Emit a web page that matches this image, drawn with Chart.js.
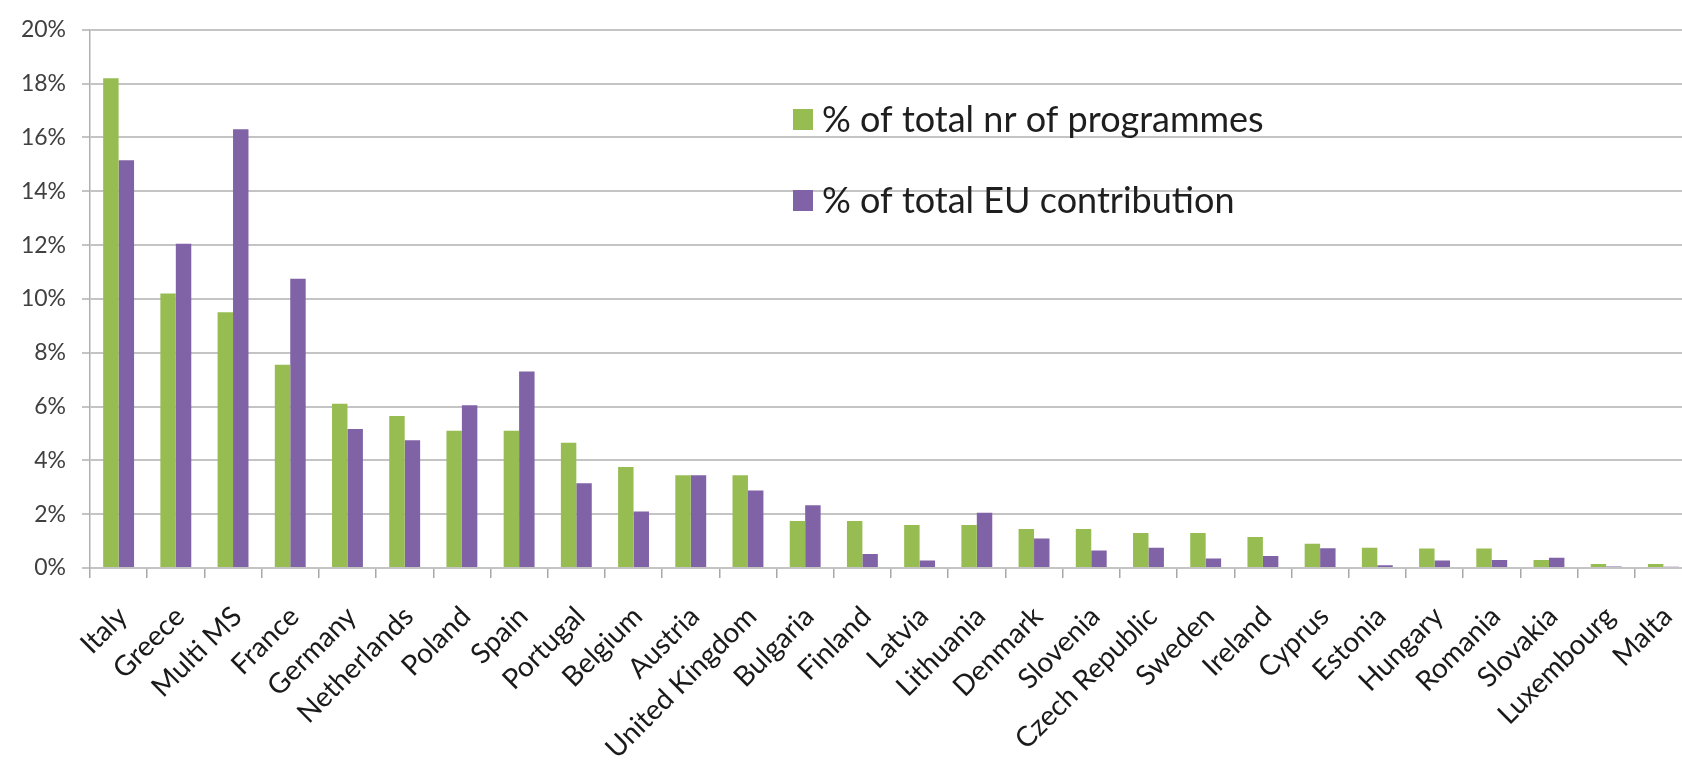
<!DOCTYPE html>
<html>
<head>
<meta charset="utf-8">
<script src="https://cdn.jsdelivr.net/npm/chart.js@4"></script>
<style>
  html, body { margin: 0; padding: 0; background: #ffffff; overflow: hidden; }
  #wrap { width: 1700px; height: 765px; }
</style>
</head>
<body>
<div id="wrap"><canvas id="chart" width="1700" height="765"></canvas></div>
<script>
// Countries, in descending order of share of programmes
const categories = [
  'Italy', 'Greece', 'Multi MS', 'France', 'Germany', 'Netherlands', 'Poland',
  'Spain', 'Portugal', 'Belgium', 'Austria', 'United Kingdom', 'Bulgaria',
  'Finland', 'Latvia', 'Lithuania', 'Denmark', 'Slovenia', 'Czech Republic',
  'Sweden', 'Ireland', 'Cyprus', 'Estonia', 'Hungary', 'Romania', 'Slovakia',
  'Luxembourg', 'Malta'
];

// % of total number of programmes
const programmesShare = [
  18.2, 10.2, 9.5, 7.55, 6.1, 5.65, 5.1, 5.1, 4.65, 3.75, 3.45, 3.45, 1.75,
  1.75, 1.6, 1.6, 1.45, 1.45, 1.3, 1.3, 1.15, 0.9, 0.75, 0.72, 0.72, 0.3,
  0.15, 0.15
];

// % of total EU contribution
const contributionShare = [
  15.15, 12.05, 16.3, 10.75, 5.17, 4.75, 6.05, 7.3, 3.15, 2.1, 3.45, 2.88, 2.33,
  0.52, 0.28, 2.05, 1.1, 0.65, 0.75, 0.35, 0.45, 0.73, 0.1, 0.28, 0.3, 0.38,
  0.06, 0.05
];

const seriesLabels = ['% of total nr of programmes', '% of total EU contribution'];
const yTicks = [0, 2, 4, 6, 8, 10, 12, 14, 16, 18, 20];

const GREEN = '#97bd52';
const PURPLE = '#8062a6';
const GRID = '#c4c4c4';

// Legend drawn inside the plot area, two rows with square swatches
const insideLegend = {
  id: 'insideLegend',
  afterDraw(chart) {
    const ctx = chart.ctx;
    ctx.save();
    ctx.font = '36px Lato';
    ctx.textBaseline = 'middle';
    ctx.textAlign = 'left';
    chart.data.datasets.forEach((ds, i) => {
      const y = 119 + i * 81;
      ctx.fillStyle = ds.backgroundColor;
      ctx.fillRect(793, y - 10, 20, 21);
      ctx.fillStyle = '#1e1e1e';
      ctx.fillText(ds.label, 822, y + 1);
    });
    ctx.restore();
  }
};

new Chart(document.getElementById('chart'), {
  type: 'bar',
  data: {
    labels: categories,
    datasets: [
      { label: seriesLabels[0], data: programmesShare, backgroundColor: GREEN },
      { label: seriesLabels[1], data: contributionShare, backgroundColor: PURPLE }
    ]
  },
  options: {
    responsive: false,
    animation: false,
    devicePixelRatio: 1,
    layout: { padding: { top: 20, right: 8, left: 0, bottom: 0 } },
    datasets: {
      bar: { categoryPercentage: 0.54, barPercentage: 1.0 }
    },
    plugins: {
      legend: { display: false },
      tooltip: { enabled: false }
    },
    scales: {
      x: {
        offset: true,
        grid: {
          display: true,
          offset: true,
          drawOnChartArea: false,
          drawTicks: true,
          tickLength: 10,
          color: '#a8a8a8',
          lineWidth: 1.5
        },
        border: { display: true, color: GRID, width: 2 },
        ticks: {
          autoSkip: false,
          minRotation: 45,
          maxRotation: 45,
          padding: 22,
          labelOffset: 4,
          color: '#1a1a1a',
          font: { family: 'Lato', size: 28 }
        },
        afterFit(scale) {
          scale.height = 197;
          scale.paddingLeft = 0;
          scale.paddingRight = 0;
        }
      },
      y: {
        min: 0,
        max: 20,
        afterBuildTicks(scale) { scale.ticks = yTicks.map(v => ({ value: v })); },
        grid: {
          color: GRID,
          lineWidth: 2,
          drawTicks: true,
          tickLength: 8
        },
        border: { display: true, color: '#b0b0b0', width: 1.5 },
        ticks: {
          padding: 16,
          color: '#404040',
          font: { family: 'Lato', size: 23 },
          callback: v => v + '%'
        },
        afterFit(scale) { scale.width = 90; }
      }
    }
  },
  plugins: [insideLegend]
});
</script>
</body>
</html>
